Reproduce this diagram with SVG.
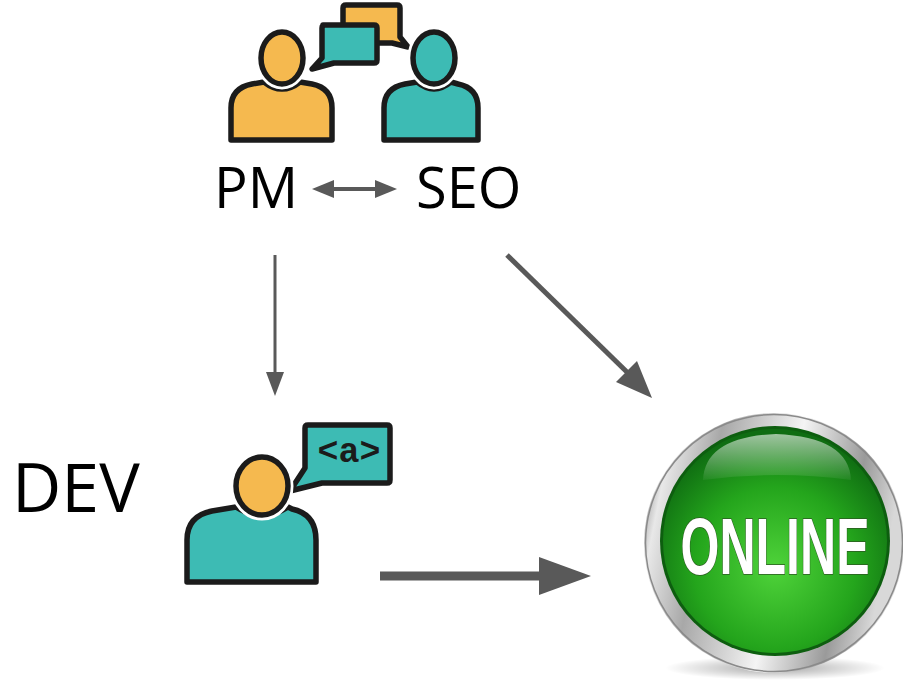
<svg xmlns="http://www.w3.org/2000/svg" width="903" height="681" viewBox="0 0 903 681">
  <style>
    .ol { stroke: #1b1b1b; stroke-width: 5.5; stroke-linejoin: round; }
    .orange { fill: #f5b94f; }
    .teal { fill: #3dbbb4; }
    .gap { fill: none; stroke: #ffffff; stroke-width: 11; }
    .label { font-family: "Open Sans", "Liberation Sans", sans-serif; font-size: 56px; fill: #000000; }
    .conn { stroke: #595959; fill: none; }
    .head { fill: #595959; }
  </style>
  <defs>
    <radialGradient id="greenFace" cx="0.5" cy="0.62" r="0.6">
      <stop offset="0" stop-color="#4fd33a"/>
      <stop offset="0.6" stop-color="#24a51c"/>
      <stop offset="1" stop-color="#0f6d12"/>
    </radialGradient>
    <linearGradient id="ring" x1="0" y1="0" x2="1" y2="0.2">
      <stop offset="0" stop-color="#5a5a5a"/>
      <stop offset="0.12" stop-color="#e8e8e8"/>
      <stop offset="0.3" stop-color="#a8a8a8"/>
      <stop offset="0.6" stop-color="#f4f4f4"/>
      <stop offset="0.85" stop-color="#9a9a9a"/>
      <stop offset="1" stop-color="#d8d8d8"/>
    </linearGradient>
    <linearGradient id="gloss" x1="0" y1="0" x2="0" y2="1">
      <stop offset="0" stop-color="#ffffff" stop-opacity="0.6"/>
      <stop offset="1" stop-color="#ffffff" stop-opacity="0.05"/>
    </linearGradient>
    <radialGradient id="shadow" cx="0.5" cy="0.5" r="0.5">
      <stop offset="0" stop-color="#000000" stop-opacity="0.35"/>
      <stop offset="1" stop-color="#000000" stop-opacity="0"/>
    </radialGradient>
  </defs>

  <!-- PM and SEO pair with speech bubbles -->
  <g id="pm-seo-icon">
    <path class="orange ol" d="M346,5 H397 Q400,5 400,8 V37 L408,47 L392,43 H346 Q343,43 343,40 V8 Q343,5 346,5 Z"/>
    <path class="teal ol" d="M323,25 H374 Q377,25 377,28 V60 Q377,63 374,63 H334 L312,69 L322,58 V28 Q322,25 325,25 Z"/>
    <!-- PM person -->
    <path class="orange ol" d="M231,140 V108 Q231,88 252,84 L264,82 Q282,96 300,82 L312,84 Q332,88 332,108 V140 Z"/>
    <ellipse class="gap" cx="282" cy="58" rx="21" ry="26"/>
    <ellipse class="orange ol" cx="282" cy="58" rx="21" ry="26"/>
    <!-- SEO person -->
    <path class="teal ol" d="M384,140 V108 Q384,88 405,84 L417,82 Q434,96 451,82 L458,84 Q478,88 478,108 V140 Z"/>
    <ellipse class="gap" cx="434" cy="58" rx="21" ry="26"/>
    <ellipse class="teal ol" cx="434" cy="58" rx="21" ry="26"/>
  </g>

  <g id="pm">
    <text class="label" x="214" y="208">PM</text>
  </g>
  <g id="seo">
    <text class="label" x="416" y="208">SEO</text>
  </g>

  <!-- developer with code bubble -->
  <g id="dev">
    <text class="label" x="12" y="512" style="font-size:68px">DEV</text>
    <path class="teal ol" d="M308,425 H387 Q390,425 390,428 V480 Q390,483 387,483 H322 L290,491 L305,468 V428 Q305,425 308,425 Z"/>
    <text x="349" y="462" text-anchor="middle" font-family="'Liberation Mono', 'DejaVu Sans Mono', monospace" font-weight="bold" font-size="35" fill="#1b1b1b">&lt;a&gt;</text>
    <path class="teal ol" d="M187,582 V540 Q187,516 212,511 L236,507 Q262,524 288,507 L292,509 Q316,514 316,540 V582 Z"/>
    <ellipse class="gap" cx="262" cy="486" rx="26" ry="29"/>
    <ellipse class="orange ol" cx="262" cy="486" rx="26" ry="29"/>
  </g>

  <!-- ONLINE button -->
  <g id="online">
    <ellipse cx="775" cy="668" rx="110" ry="12" fill="url(#shadow)"/>
    <circle cx="774" cy="543" r="130" fill="url(#ring)"/>
    <circle cx="774" cy="543" r="128.5" fill="none" stroke="#8a8a8a" stroke-width="1.5"/>
    <circle cx="775" cy="541" r="115" fill="#0d5e0f"/>
    <circle cx="775" cy="541" r="112" fill="url(#greenFace)"/>
    <path d="M703,480 Q705,437 776,434 Q849,437 851,480 Q776,470 703,480 Z" fill="url(#gloss)"/>
    <text x="775" y="574" text-anchor="middle" font-family="'Liberation Sans', Arial, sans-serif" font-weight="bold" font-size="80" fill="#ffffff" stroke="#2c5a22" stroke-width="1.5" paint-order="stroke" textLength="189" lengthAdjust="spacingAndGlyphs">ONLINE</text>
  </g>

  <!-- connectors -->
  <g id="connectors">
    <line class="conn" x1="332" y1="189" x2="377" y2="189" stroke-width="4"/>
    <polygon class="head" points="312,189 334,180 334,198"/>
    <polygon class="head" points="397,189 375,180 375,198"/>

    <line class="conn" x1="275" y1="255" x2="275" y2="375" stroke-width="3"/>
    <polygon class="head" points="275,396 266,372 284,372"/>

    <line class="conn" x1="507" y1="255" x2="630" y2="375" stroke-width="5"/>
    <polygon class="head" points="652,398 616,382 637,361"/>

    <line class="conn" x1="380" y1="576" x2="545" y2="576" stroke-width="9"/>
    <polygon class="head" points="591,576 539,557 539,595"/>
  </g>
</svg>
